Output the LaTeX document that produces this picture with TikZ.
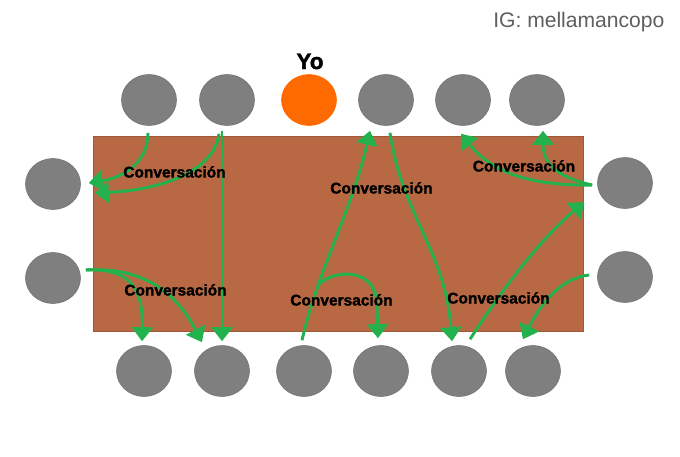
\documentclass[tikz,border=0pt]{standalone}
\usepackage{fontspec}
\setmainfont{Liberation Sans}
\newfontfamily\gruesa[FakeBold = 1.6]{Liberation Sans}
\usetikzlibrary{shapes.geometric}
\usetikzlibrary{arrows.meta}
\usetikzlibrary{calc}

\definecolor{colmesa}{RGB}{184,104,66}
\definecolor{colsilla}{RGB}{127,127,127}
\definecolor{colyo}{RGB}{255,106,0}
\definecolor{colverde}{RGB}{34,177,76}
\definecolor{colfirma}{RGB}{95,95,95}

\begin{document}
\begin{tikzpicture} [x = 0.025cm, y = -0.025cm,
  asiento/.style = {ellipse, fill = colsilla, draw = colsilla!90!black, thin, minimum width = 1.375cm, minimum height = 1.275cm, inner sep = 0},
  flecha/.style = {draw = colverde, line width = 2.1pt, -{Triangle[width = 15pt, length = 10pt]}},
  charla/.style = {anchor = base, inner sep = 0, font = \fontsize{11}{13}\selectfont\gruesa\bfseries}]
\useasboundingbox (0, 0) rectangle (680, 456);
\node[rectangle, fill = colmesa, draw = colmesa!85!black, thin, minimum width = 12.25cm, minimum height = 4.875cm, inner sep = 0] (mesa) at (338, 233.5) {};
\node[asiento] (t1) at (149, 100) {};
\node[asiento] (t2) at (227, 100) {};
\node[asiento, fill = colyo, draw = colyo] (yo) at (309, 100) {};
\node[asiento] (t4) at (386, 100) {};
\node[asiento] (t5) at (463, 100) {};
\node[asiento] (t6) at (537, 100) {};
\node[asiento] (l1) at (53, 184) {};
\node[asiento] (l2) at (53, 278) {};
\node[asiento] (r1) at (625, 183) {};
\node[asiento] (r2) at (625, 277) {};
\node[asiento] (b1) at (144, 371) {};
\node[asiento] (b2) at (222, 371) {};
\node[asiento] (b3) at (304, 371) {};
\node[asiento] (b4) at (381, 371) {};
\node[asiento] (b5) at (459, 371) {};
\node[asiento] (b6) at (533, 371) {};
\node[anchor = base, inner sep = 0, font = \fontsize{16}{19}\selectfont\gruesa\bfseries] (yotexto) at (310, 69) {Yo};
\node[anchor = base west, inner sep = 0, text = colfirma, font = \fontsize{15}{18}\selectfont] (firma) at (493, 27) {IG: mellamancopo};
\draw[flecha] ($(t1.south)+(-1,7)$) .. controls (148,165) and (120,178) .. ($(l1.east)+(8,-1)$);
\draw[flecha] ($(t2.south)+(-8,8)$) .. controls (214,172) and (160,190) .. ($(l1.east)+(14,9)$);
\draw[flecha] ($(t2.south)+(-5,5)$) -- ($(b2.north)+(0,-4)$);
\draw[flecha] ($(l2.east)+(5,-8)$) .. controls (132,268) and (143,290) .. ($(b1.north)+(-2,-4)$);
\draw[flecha] ($(l2.east)+(5,-8)$) .. controls (150,266) and (180,300) .. ($(b2.north)+(-20,-3)$);
\draw[flecha] ($(b3.north)+(-2,-5)$) .. controls (318,270) and (352,210) .. ($(t4.south)+(-16,5)$) coordinate[pos = 0.27] (ramal);
\draw[flecha] (ramal) .. controls (335,268) and (377,268) .. (377,305) -- ($(b4.north)+(-3,-7)$);
\draw[flecha] ($(t4.south)+(4,7)$) .. controls (402,215) and (445,250) .. ($(b5.north)+(-7,-4)$);
\draw[flecha] ($(r1.west)+(-5,2)$) .. controls (525,186) and (490,170) .. ($(t5.south)+(-2,8)$);
\draw[flecha] ($(r1.west)+(-5,2)$) .. controls (560,178) and (543,165) .. ($(t6.south)+(6,5)$);
\draw[flecha] ($(b5.north)+(11,-6)$) .. controls (505,285) and (540,240) .. ($(r1.west)+(-13,19)$);
\draw[flecha] ($(r2.west)+(-8,-2)$) .. controls (560,278) and (540,305) .. ($(b6.north)+(-10,-6)$);
\node[charla] (c1) at (174.5, 177.5) {Conversación};
\node[charla] (c2) at (175.5, 295.5) {Conversación};
\node[charla] (c3) at (381.5, 193.5) {Conversación};
\node[charla] (c4) at (524, 171.5) {Conversación};
\node[charla] (c5) at (341.5, 305.5) {Conversación};
\node[charla] (c6) at (498.5, 303.5) {Conversación};
\end{tikzpicture}
\end{document}
